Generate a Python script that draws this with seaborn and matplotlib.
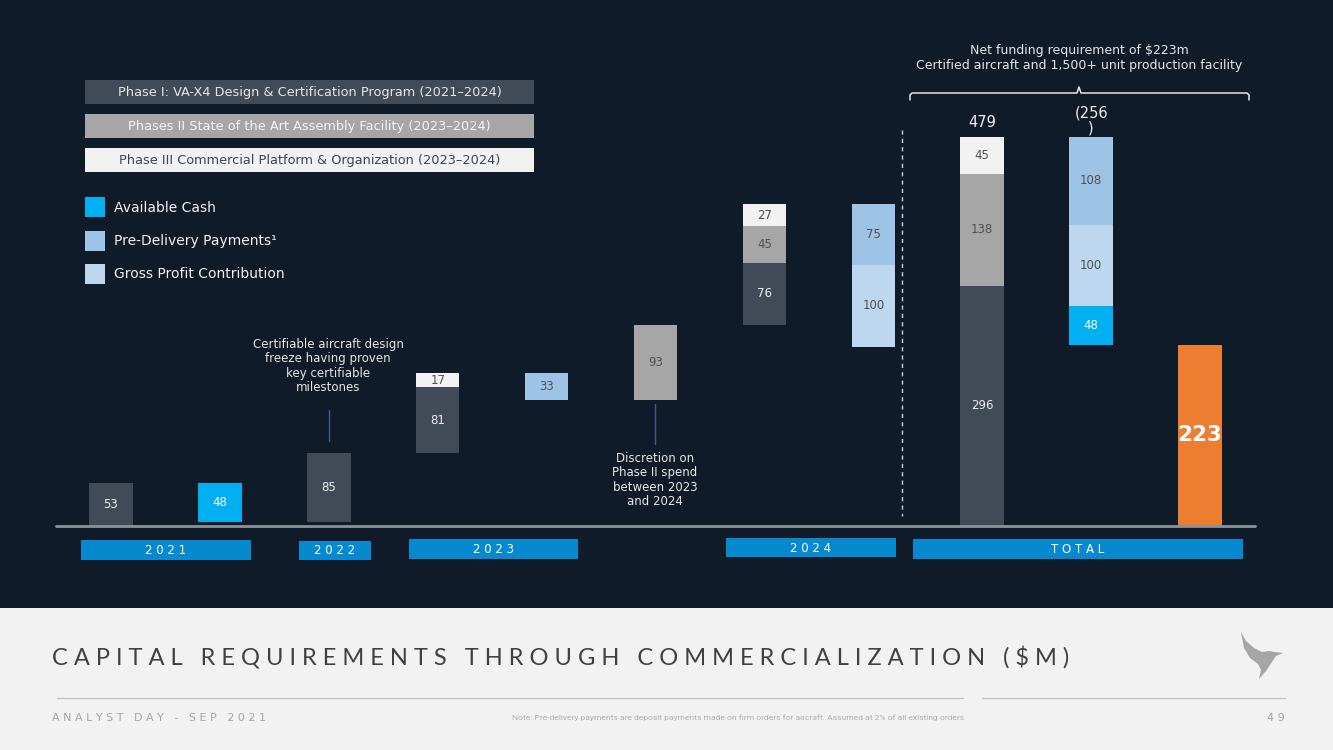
import matplotlib
matplotlib.use("Agg")
import matplotlib.pyplot as plt
from matplotlib.patches import Rectangle, Polygon
import seaborn as sns

# waterfall steps 2021-2024 (negative = funding source)
step_pos = [0, 1, 2, 3, 3, 4, 5, 6, 6, 6, 7, 7]
step_values = [53, -48, 85, 81, 17, -33, 93, 76, 45, 27, -75, -100]
step_kind = ["p1", "cash", "p1", "p1", "p3", "pdp", "p2", "p1", "p2", "p3", "pdp", "gpc"]

# total column, offsets and net requirement
total_values = [296, 138, 45]
total_kind = ["p1", "p2", "p3"]
offset_values = [-108, -100, -48]
offset_kind = ["pdp", "gpc", "cash"]
net_value = 223

year_labels = ["2021", "2022", "2023", "2024", "TOTAL"]
phase_labels = [
    "Phase I: VA-X4 Design & Certification Program (2021\u20132024)",
    "Phases II State of the Art Assembly Facility (2023\u20132024)",
    "Phase III Commercial Platform & Organization (2023\u20132024)",
]
legend_labels = ["Available Cash", "Pre-Delivery Payments\u00b9", "Gross Profit Contribution"]

colors = {"p1": "#414b57", "p2": "#a6a6a6", "p3": "#f2f2f2",
          "cash": "#00b0f0", "pdp": "#9dc3e6", "gpc": "#bdd7ee"}
txt_colors = {"p1": "#eeeeee", "p2": "#505050", "p3": "#505050",
              "cash": "#ffffff", "pdp": "#505050", "gpc": "#505050"}
bg = "#101b29"

sns.set_theme(style="dark")
plt.rcParams["font.family"] = ["DejaVu Sans"]

fig = plt.figure(figsize=(13.33, 7.5), dpi=100, facecolor=bg)

# overlay in pixel coords for slide decorations
ov = fig.add_axes([0, 0, 1, 1])
ov.set_xlim(0, 1333)
ov.set_ylim(750, 0)
ov.axis("off")
ov.set_zorder(0)

# chart axes: 0 at y=526px, 0.812 px per $m
ax = fig.add_axes([56.5 / 1333, (750 - 526) / 750, 1198 / 1333, 496 / 750])
ax.set_zorder(1)
ax.patch.set_visible(False)
ax.set_xlim(-0.5, 10.5)
ax.set_ylim(0, 496 / 0.812)
ax.axis("off")

W = 0.4


def seg(x, bottom, h, kind):
    ax.bar(x, h, bottom=bottom, width=W, color=colors[kind], linewidth=0)
    ax.text(x, bottom + h / 2, str(int(h)), ha="center", va="center",
            fontsize=8.5, color=txt_colors[kind])


running = 0
for x, v, k in zip(step_pos, step_values, step_kind):
    seg(x, min(running, running + v), abs(v), k)
    running += v

running = 0
for v, k in zip(total_values, total_kind):
    seg(8, running, v, k)
    running += v
total = running
for v, k in zip(offset_values, offset_kind):
    seg(9, running + v, abs(v), k)
    running += v

ax.bar(10, net_value, width=W, color="#ed7d31", linewidth=0)
ax.text(10, net_value / 2, str(net_value), ha="center", va="center",
        fontsize=15.5, fontweight="bold", color="white")

ax.text(8, total + 9, str(total), ha="center", va="bottom", fontsize=10.5, color="#eeeeee")
ax.text(9, total + 2, "(%d\n)" % (total - running), ha="center", va="bottom",
        fontsize=10.5, color="#eeeeee", linespacing=1.0)

ax.axhline(0, color="#8a929b", lw=2, clip_on=False)

# year boxes
year_boxes = [(81, 251, 540, 560), (299, 371, 541, 560), (409, 578, 539, 559),
              (726, 896, 538, 557), (913, 1243, 539, 559)]
for (x0, x1, y0, y1), lab in zip(year_boxes, year_labels):
    ov.add_patch(Rectangle((x0, y0), x1 - x0, y1 - y0, color="#0789d0", lw=0))
    ov.text((x0 + x1) / 2, (y0 + y1) / 2 + 0.5, " ".join(lab), ha="center", va="center",
            fontsize=8.5, color="white")

# phase legend boxes
phase_fc = ["#414b57", "#a6a6a6", "#f2f2f2"]
phase_tc = ["#e6e6e6", "#f5f5f5", "#3b4652"]
for i, lab in enumerate(phase_labels):
    y0 = 80 + i * 34
    ov.add_patch(Rectangle((85, y0), 449, 24, color=phase_fc[i], lw=0))
    ov.text(309.5, y0 + 12.5, lab, ha="center", va="center", fontsize=9.3, color=phase_tc[i])

leg_fc = [colors["cash"], colors["pdp"], colors["gpc"]]
for i, lab in enumerate(legend_labels):
    y0 = 197 + i * 33.5
    ov.add_patch(Rectangle((85, y0), 20, 20, color=leg_fc[i], lw=0))
    ov.text(114, y0 + 10.5, lab, ha="left", va="center", fontsize=10, color="#f0f0f0")

# annotations
ov.plot([329, 329], [410, 441], color="#3d5a96", lw=1)
ov.text(328, 366, "Certifiable aircraft design\nfreeze having proven\nkey certifiable\nmilestones",
        ha="center", va="center", fontsize=8.5, color="#e6e6e6", linespacing=1.15)
ov.plot([655, 655], [404, 444], color="#3d5a96", lw=1)
ov.text(655, 480, "Discretion on\nPhase II spend\nbetween 2023\nand 2024",
        ha="center", va="center", fontsize=8.5, color="#e6e6e6", linespacing=1.15)

ov.plot([902, 902], [130, 516], color="#d0d0d0", lw=1, ls=(0, (3, 3)))

# brace over total section
ov.plot([910, 910, 912, 1077, 1079, 1081, 1247, 1249, 1249],
        [100, 95, 93, 93, 87, 93, 93, 95, 100], color="#e6e6e6", lw=1.1)
ov.text(1079, 58, "Net funding requirement of $223m\nCertified aircraft and 1,500+ unit production facility",
        ha="center", va="center", fontsize=9, color="#e6e6e6", linespacing=1.2)

# bottom panel
ov.add_patch(Rectangle((0, 608), 1333, 142, color="#f2f2f2", lw=0))
ov.text(52, 658, " ".join("CAPITAL REQUIREMENTS THROUGH COMMERCIALIZATION ($M)"),
        ha="left", va="center", fontsize=17, color="#404040", family="Lato")
ov.plot([57, 963], [698, 698], color="#c4c4c4", lw=1)
ov.plot([982, 1285], [698, 698], color="#c4c4c4", lw=1)
ov.text(52, 718, " ".join("ANALYST DAY - SEP 2021"), ha="left", va="center",
        fontsize=8, color="#a6a6a6")
ov.text(738, 718, "Note: Pre-delivery payments are deposit payments made on firm orders for aircraft. "
        "Assumed at 2% of all existing orders", ha="center", va="center",
        fontsize=6.1, color="#b0b0b0", family="Roboto")
ov.text(1285, 718, "4 9", ha="right", va="center", fontsize=8, color="#a6a6a6")

# logo (rough bird silhouette)
bird = [(1241, 632), (1246, 641), (1254, 648), (1262, 652), (1269, 651), (1275, 652),
        (1283, 653), (1276, 656), (1272, 662), (1266, 671), (1259, 679), (1261, 670),
        (1258, 664), (1250, 658), (1244, 648)]
ov.add_patch(Polygon(bird, closed=True, color="#a6a6a6", lw=0))

fig.savefig("out.png", dpi=100, facecolor=bg)
